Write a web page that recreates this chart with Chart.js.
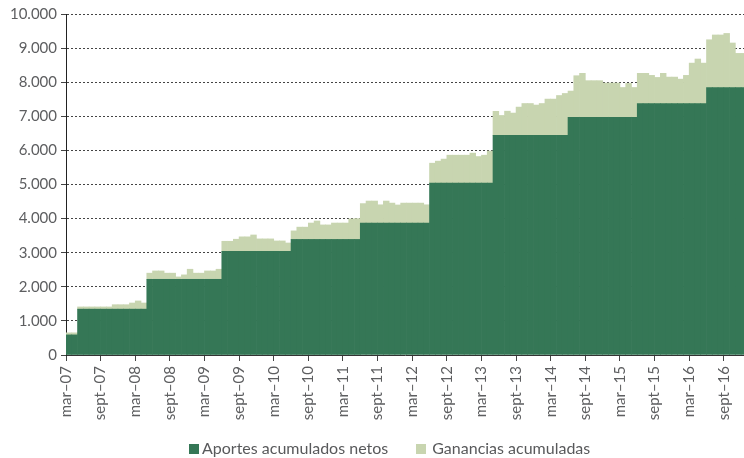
<!DOCTYPE html>
<html>
<head>
<meta charset="utf-8">
<script src="https://cdn.jsdelivr.net/npm/chart.js@4"></script>
<style>
  body { margin: 0; background: #fff; }
  #wrap { position: relative; width: 744px; height: 458px; }
  #legend { position: absolute; left: 189px; top: 438px; display: flex; align-items: baseline;
    font-family: Lato, sans-serif; font-size: 16px; color: #58595b; white-space: nowrap; }
  #legend .box { display: inline-block; width: 10px; height: 10px; }
</style>
</head>
<body>
<div id="wrap">
  <canvas id="myChart"></canvas>
  <div id="legend">
    <span class="box" style="background:#357756"></span><span style="margin-left:3px">Aportes acumulados netos</span>
    <span class="box" style="background:#c8d5b0;margin-left:28px"></span><span style="margin-left:6px">Ganancias acumuladas</span>
  </div>
</div>
<script>
// etiquetas del eje x (una cada 6 meses, desde mar-07)
const tickLabels = ["mar–07", "sept–07", "mar–08", "sept–08", "mar–09", "sept–09", "mar–10", "sept–10",
  "mar–11", "sept–11", "mar–12", "sept–12", "mar–13", "sept–13", "mar–14", "sept–14",
  "mar–15", "sept–15", "mar–16", "sept–16"];

// valores mensuales, mar-07 a dic-16 (118 meses)
const aportes = [
  590, 590,
  1345, 1345, 1345, 1345, 1345, 1345, 1345, 1345, 1345, 1345, 1345, 1345,
  2220, 2220, 2220, 2220, 2220, 2220, 2220, 2220, 2220, 2220, 2220, 2220, 2220,
  3040, 3040, 3040, 3040, 3040, 3040, 3040, 3040, 3040, 3040, 3040, 3040,
  3390, 3390, 3390, 3390, 3390, 3390, 3390, 3390, 3390, 3390, 3390, 3390,
  3865, 3865, 3865, 3865, 3865, 3865, 3865, 3865, 3865, 3865, 3865, 3865,
  5040, 5040, 5040, 5040, 5040, 5040, 5040, 5040, 5040, 5040, 5040,
  6440, 6440, 6440, 6440, 6440, 6440, 6440, 6440, 6440, 6440, 6440, 6440, 6440,
  6970, 6970, 6970, 6970, 6970, 6970, 6970, 6970, 6970, 6970, 6970, 6970,
  7370, 7370, 7370, 7370, 7370, 7370, 7370, 7370, 7370, 7370, 7370, 7370,
  7840, 7840, 7840, 7840, 7840, 7840, 7840
];
const ganancias = [
  60, 60,
  65, 65, 65, 65, 65, 65, 130, 130, 130, 180, 240, 180,
  180, 245, 245, 180, 180, 70, 130, 295, 180, 180, 245, 245, 295,
  295, 295, 355, 425, 425, 480, 365, 365, 365, 305, 305, 245,
  250, 360, 360, 480, 540, 425, 425, 480, 480, 480, 600, 610,
  575, 650, 650, 540, 650, 590, 535, 590, 590, 590, 590, 540,
  585, 645, 705, 820, 820, 820, 820, 880, 780, 820, 940,
  705, 585, 710, 655, 830, 935, 935, 890, 935, 1065, 1065, 1170, 1230,
  770, 1220, 1290, 1075, 1075, 1075, 1005, 1005, 1005, 875, 995, 875,
  890, 890, 830, 770, 890, 780, 780, 720, 830, 1190, 1310, 1190,
  1405, 1545, 1545, 1590, 1310, 1005, 1005
];

const ctx = document.getElementById("myChart");
const myChart = new Chart(ctx, {
  type: "bar",
  data: {
    datasets: [
      {
        label: "Aportes acumulados netos",
        data: aportes.map((v, i) => ({ x: i + 0.5, y: v })),
        backgroundColor: "#357756",
        barPercentage: 1,
        categoryPercentage: 1,
        borderWidth: 0,
        clip: 0,
      },
      {
        label: "Ganancias acumuladas",
        data: ganancias.map((v, i) => ({ x: i + 0.5, y: v })),
        backgroundColor: "#c8d5b0",
        barPercentage: 1,
        categoryPercentage: 1,
        borderWidth: 0,
        clip: 0,
      },
    ],
  },
  options: {
    responsive: true,
    maintainAspectRatio: false,
    animation: false,
    layout: { padding: { top: 14, right: 0, bottom: 0, left: 0 } },
    plugins: { legend: { display: false }, tooltip: { enabled: false } },
    scales: {
      x: {
        type: "linear",
        stacked: true,
        offset: false,
        min: 0,
        max: 117.5,
        afterFit: (s) => { s.height = 103; s.paddingLeft = 0; s.paddingRight = 0; },
        grid: { offset: false, drawOnChartArea: false, tickLength: 6, color: "#444" },
        border: { color: "#333", width: 1 },
        ticks: {
          stepSize: 6,
          includeBounds: false,
          autoSkip: false,
          minRotation: 90,
          maxRotation: 90,
          padding: 5,
          color: "#5d5e60",
          font: { family: "Lato", size: 15 },
          callback: (v) => (v % 6 === 0 ? tickLabels[v / 6] : ""),
        },
      },
      y: {
        stacked: true,
        min: 0,
        max: 10000,
        afterFit: (s) => { s.width = 66; },
        grid: { color: "#444", tickLength: 5, tickBorderDash: [] },
        border: { color: "#222", width: 1, dash: [2, 2] },
        ticks: {
          stepSize: 1000,
          padding: 4,
          color: "#5d5e60",
          font: { family: "Lato", size: 15 },
          callback: (v) => v.toLocaleString("de-DE"),
        },
      },
    },
  },
});
</script>
</body>
</html>
